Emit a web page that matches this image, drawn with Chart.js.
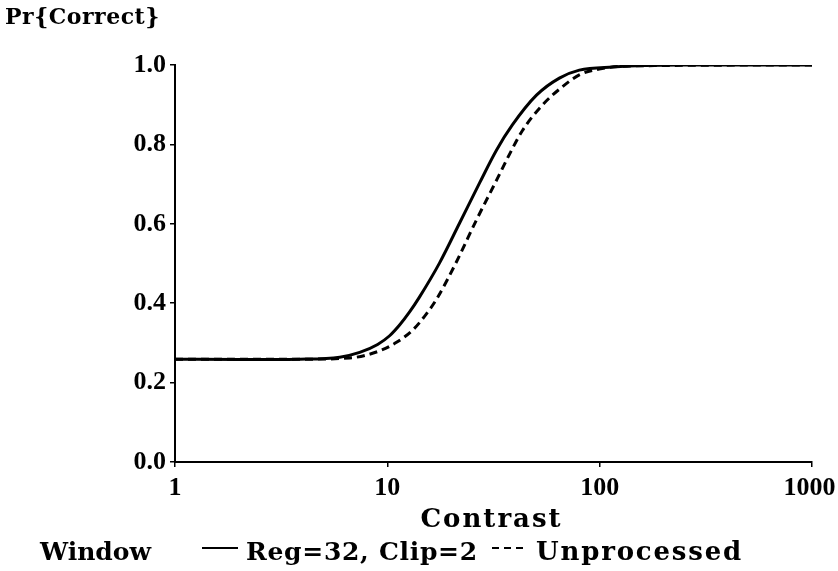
<!DOCTYPE html>
<html>
<head>
<meta charset="utf-8">
<script src="https://cdn.jsdelivr.net/npm/chart.js@4/dist/chart.umd.min.js"></script>
<style>
  html, body { margin: 0; padding: 0; background: #ffffff; }
  #wrap { width: 838px; height: 571px; position: relative; }
</style>
</head>
<body>
<div id="wrap"><canvas id="c" width="838" height="571"></canvas></div>
<script>
// ---- data ----
const xTickValues = [1, 10, 100, 1000];
const yTickValues = [0.0, 0.2, 0.4, 0.6, 0.8, 1.0];

const seriesLabels = ["Reg=32, Clip=2", "Unprocessed"];
const legendTitle = "Window";
const yAxisTitle = "Pr{Correct}";
const xAxisTitle = "Contrast";

const contrastSolid = [1, 2, 3.87, 5.97, 7.41, 9.0, 10.25, 11.42, 12.73, 14.19, 17.6, 21.9, 27.2, 32.7, 38.8, 50.4, 64.6, 80.2, 115, 237, 1000];
const pcSolid       = [0.259, 0.258, 0.259, 0.264, 0.276, 0.296, 0.318, 0.345, 0.378, 0.416, 0.501, 0.602, 0.703, 0.786, 0.849, 0.924, 0.967, 0.987, 0.995, 1.0, 1.0];

const contrastDashed = [1, 3.87, 6.65, 9.2, 11.1, 13.2, 14.97, 17.05, 21.2, 26.3, 32.7, 37.6, 43.3, 53.7, 66.7, 80.2, 99.6, 153, 1000];
const pcDashed       = [0.259, 0.259, 0.262, 0.280, 0.302, 0.333, 0.367, 0.410, 0.505, 0.610, 0.710, 0.775, 0.835, 0.899, 0.945, 0.975, 0.990, 0.998, 1.0];

// ---- build ----
const FONT = '"DejaVu Serif", "Liberation Serif", serif';
const TICKFONT = '"Liberation Serif", "DejaVu Serif", serif';
const toPts = (xs, ys) => xs.map((x, i) => ({ x: x, y: ys[i] }));

function spacedText(ctx, text, x, y, font, spacing) {
  ctx.font = font;
  if ('letterSpacing' in ctx) {
    ctx.letterSpacing = spacing + 'px';
    ctx.fillText(text, x, y);
    ctx.letterSpacing = '0px';
  } else {
    ctx.fillText(text, x, y);
  }
}

const textPlugin = {
  id: 'extraText',
  afterDraw(chart) {
    const ctx = chart.ctx;
    const area = chart.chartArea;
    ctx.save();
    ctx.fillStyle = '#000';
    ctx.textBaseline = 'middle';
    ctx.textAlign = 'left';
    spacedText(ctx, yAxisTitle, 5, 18, 'bold 22px ' + FONT, 0.5);

    // x axis title
    ctx.textAlign = 'center';
    spacedText(ctx, xAxisTitle, (area.left + area.right) / 2 - 2, 520, 'bold 26px ' + FONT, 2);
    ctx.textAlign = 'left';

    const ly = 553;
    spacedText(ctx, legendTitle, 40, ly, 'bold 25px ' + FONT, 0);

    // solid sample
    ctx.strokeStyle = '#000';
    ctx.lineWidth = 2;
    ctx.setLineDash([]);
    ctx.beginPath(); ctx.moveTo(202, ly - 5); ctx.lineTo(238, ly - 5); ctx.stroke();
    spacedText(ctx, seriesLabels[0], 246, ly, 'bold 25px ' + FONT, 0.7);

    // dashed sample
    ctx.setLineDash([7, 5]);
    ctx.beginPath(); ctx.moveTo(492, ly - 5); ctx.lineTo(528, ly - 5); ctx.stroke();
    ctx.setLineDash([]);
    spacedText(ctx, seriesLabels[1], 536, ly, 'bold 26px ' + FONT, 1.8);
    ctx.restore();
  }
};

new Chart(document.getElementById('c'), {
  type: 'line',
  data: {
    datasets: [
      {
        label: seriesLabels[0],
        data: toPts(contrastSolid, pcSolid),
        borderColor: '#000',
        borderWidth: 3,
        pointRadius: 0,
        fill: false,
        cubicInterpolationMode: 'monotone'
      },
      {
        label: seriesLabels[1],
        data: toPts(contrastDashed, pcDashed),
        borderColor: '#000',
        borderWidth: 3,
        borderDash: [8, 5],
        pointRadius: 0,
        fill: false,
        cubicInterpolationMode: 'monotone'
      }
    ]
  },
  options: {
    responsive: false,
    animation: false,
    devicePixelRatio: 1,
    layout: { padding: { top: 65, right: 26, bottom: 40, left: 0 } },
    plugins: {
      legend: { display: false },
      title: { display: false },
      tooltip: { enabled: false }
    },
    scales: {
      x: {
        type: 'logarithmic',
        min: 1,
        max: 1000,
        afterBuildTicks(scale) { scale.ticks = xTickValues.map(v => ({ value: v })); },
        afterFit(scale) { scale.height = 69; scale.paddingRight = 0; scale.paddingLeft = 0; },
        ticks: {
          color: '#000',
          font: { family: TICKFONT, size: 26, weight: 'bold' },
          padding: 6,
          maxRotation: 0,
          autoSkip: false,
          callback: (v) => (v === 1000 ? String(v) + '\u2009' : String(v))
        },
        grid: { display: true, drawOnChartArea: false, drawTicks: true, tickLength: 5, color: '#000', lineWidth: 1.5 },
        border: { display: true, color: '#000', width: 2 },
        title: { display: false }
      },
      y: {
        type: 'linear',
        min: 0,
        max: 1,
        afterBuildTicks(scale) { scale.ticks = yTickValues.map(v => ({ value: v })); },
        afterFit(scale) { scale.width = 175; scale.paddingTop = 0; scale.paddingBottom = 0; },
        ticks: {
          color: '#000',
          font: { family: TICKFONT, size: 26, weight: 'bold' },
          padding: 4,
          callback: (v) => Number(v).toFixed(1)
        },
        grid: { display: true, drawOnChartArea: false, drawTicks: true, tickLength: 5, color: '#000', lineWidth: 1.5 },
        border: { display: true, color: '#000', width: 2 }
      }
    }
  },
  plugins: [textPlugin]
});
</script>
</body>
</html>
